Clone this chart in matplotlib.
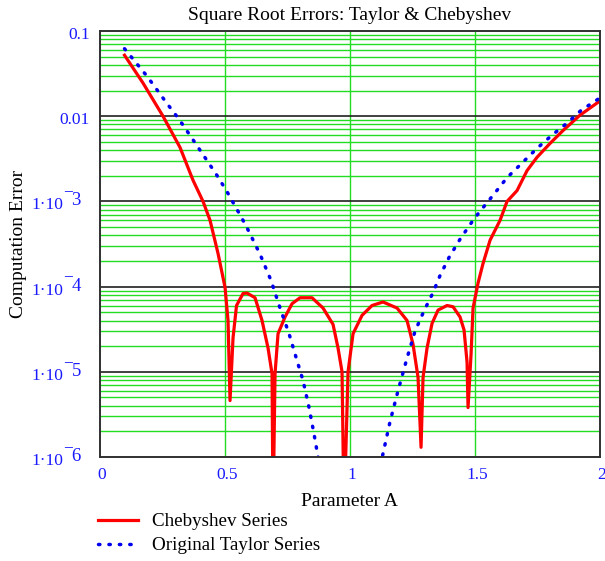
import matplotlib
matplotlib.use("Agg")
import matplotlib.pyplot as plt
import matplotlib.transforms as mtransforms
from matplotlib.ticker import FixedLocator, NullFormatter
from matplotlib.lines import Line2D

plt.rcParams['font.family'] = ['Liberation Serif', 'DejaVu Serif']

title = "Square Root Errors: Taylor & Chebyshev"
xlabel = "Parameter A"
ylabel = "Computation Error"
series_names = ["Chebyshev Series", "Original Taylor Series"]

cheb_x = [0.10, 0.174, 0.254, 0.322, 0.374, 0.414, 0.442, 0.474, 0.502, 0.514,
          0.522, 0.534, 0.548, 0.574, 0.59, 0.622, 0.65, 0.674, 0.69, 0.694,
          0.702, 0.714, 0.742, 0.77, 0.802, 0.85, 0.894, 0.934, 0.954, 0.97,
          0.978, 0.994, 1.014, 1.05, 1.09, 1.134, 1.19, 1.23, 1.254, 1.274,
          1.286, 1.294, 1.31, 1.33, 1.354, 1.39, 1.414, 1.442, 1.458, 1.47,
          1.474, 1.486, 1.494, 1.514, 1.534, 1.562, 1.602, 1.63, 1.67, 1.71,
          1.75, 1.802, 1.854, 1.922, 2.0]
cheb_y = [0.052, 0.0245, 0.01, 4.3e-3, 1.77e-3, 1e-3, 6e-4, 2.45e-4, 9.8e-5, 4e-5,
          4.6e-6, 2.5e-5, 6e-5, 8.3e-5, 8.4e-5, 7.4e-5, 4e-5, 1.9e-5, 9.5e-6, 2e-7,
          9.5e-6, 2.8e-5, 4.4e-5, 6.3e-5, 7.4e-5, 7.4e-5, 5.6e-5, 3.6e-5, 1.9e-5, 1e-5,
          2e-7, 1e-5, 2.8e-5, 4.6e-5, 6e-5, 6.6e-5, 5.6e-5, 4e-5, 2.1e-5, 8.6e-6,
          1.3e-6, 8.6e-6, 1.9e-5, 3.7e-5, 5.3e-5, 6e-5, 5.8e-5, 4.4e-5, 3.1e-5, 1.3e-5,
          3.8e-6, 1.6e-5, 5.6e-5, 1.1e-4, 1.87e-4, 3.5e-4, 6e-4, 1e-3, 1.34e-3, 2.3e-3,
          3.3e-3, 4.8e-3, 6.8e-3, 0.0103, 0.015]

taylor_x = [0.10, 0.19, 0.266, 0.318, 0.37, 0.418, 0.466, 0.51, 0.57, 0.59,
            0.642, 0.686, 0.722, 0.758, 0.79, 0.814, 0.838, 0.858, 0.874, 0.90,
            1.10, 1.134, 1.162, 1.194, 1.23, 1.262, 1.298, 1.334, 1.362, 1.398,
            1.442, 1.494, 1.518, 1.574, 1.63, 1.694, 1.75, 1.81, 1.87, 1.926, 2.0]
taylor_y = [0.062, 0.0295, 0.0146, 9.2e-3, 5.5e-3, 3.4e-3, 2.1e-3, 1.3e-3, 6.3e-4, 4.9e-4,
            2.4e-4, 1.18e-4, 5.6e-5, 2.8e-5, 1.35e-5, 7.9e-6, 3.8e-6, 1.86e-6, 1e-6, 3.6e-7,
            4e-7, 1.1e-6, 2.6e-6, 6e-6, 1.45e-5, 3e-5, 5.2e-5, 8.5e-5, 1.35e-4, 2.2e-4,
            3.6e-4, 6e-4, 7.4e-4, 1.18e-3, 1.9e-3, 2.9e-3, 4.2e-3, 6e-3, 8.3e-3, 0.0117, 0.0163]

x_ticks = [0, 0.5, 1, 1.5, 2]
x_tick_labels = ["0", "0.5", "1", "1.5", "2"]
y_ticks = [1e-6, 1e-5, 1e-4, 1e-3, 0.01, 0.1]
# (mantissa text, exponent text) ; exponent None -> plain label
y_tick_labels = [("1·10", "6"), ("1·10", "5"), ("1·10", "4"),
                 ("1·10", "3"), ("0.01", None), ("0.1", None)]

W, H, DPI = 6.05, 5.61, 100
fig = plt.figure(figsize=(W, H), dpi=DPI)
ax = fig.add_axes([0.1645, 0.1854, 0.8265, 0.7593])
ax.set_yscale('log')
ax.set_xlim(0, 2)
ax.set_ylim(1e-6, 0.1)

green = '#22dd22'
for dec in [1e-6, 1e-5, 1e-4, 1e-3, 1e-2]:
    for m in range(2, 10):
        ax.axhline(dec * m, color=green, lw=1.0, zorder=1)
for v in [1e-5, 1e-4, 1e-3, 1e-2]:
    ax.axhline(v, color='#202020', lw=1.2, zorder=1.5)
for v in [0.5, 1.0, 1.5]:
    ax.axvline(v, color=green, lw=1.0, zorder=1)

dot_style = (0, (0.4, 2.6))
ax.plot(cheb_x, cheb_y, color='#ff0000', lw=2.3, zorder=3,
        solid_joinstyle='round', label=series_names[0])
ax.plot(taylor_x, taylor_y, color='#0000ee', lw=2.5, linestyle=dot_style,
        dash_capstyle='round', zorder=3, label=series_names[1])

tick_blue = '#1a1aff'
ax.xaxis.set_major_locator(FixedLocator(x_ticks))
ax.set_xticklabels(x_tick_labels)
ax.yaxis.set_major_locator(FixedLocator(y_ticks))
ax.yaxis.set_minor_locator(FixedLocator([]))
ax.yaxis.set_major_formatter(NullFormatter())
ax.yaxis.set_minor_formatter(NullFormatter())
ax.tick_params(axis='both', which='both', length=0, labelsize=12.5, colors=tick_blue)
ax.tick_params(axis='x', pad=7)
shift = mtransforms.ScaledTranslation(2.5 / DPI, 0, fig.dpi_scale_trans)
for lab in ax.get_xticklabels():
    lab.set_transform(lab.get_transform() + shift)

# y tick labels in Mathcad style
ytrans = mtransforms.blended_transform_factory(fig.transFigure, ax.transData)
def px(x):
    return x / (W * DPI)
def off(dy):
    return ytrans + mtransforms.ScaledTranslation(0, dy / DPI, fig.dpi_scale_trans)
for val, (mant, expo) in zip(y_ticks, y_tick_labels):
    if expo is None:
        ax.text(px(90), val, mant, transform=off(-3.5), ha='right', va='center',
                fontsize=12.5, color=tick_blue, clip_on=False)
    else:
        ax.text(px(63.5), val, mant, transform=off(-4), ha='right', va='center',
                fontsize=12.5, color=tick_blue, clip_on=False)
        ax.text(px(67.5), val, "\u2212", transform=off(9), ha='center', va='center',
                fontsize=12.5, color=tick_blue, clip_on=False)
        ax.text(px(71.5), val, expo, transform=off(0.5), ha='left', va='center',
                fontsize=13.5, color=tick_blue, clip_on=False)

for s in ax.spines.values():
    s.set_color('#303030')
    s.set_linewidth(1.4)
    s.set_zorder(4)

ax.set_title(title, fontsize=14, color='black', pad=8)
ax.set_xlabel(xlabel, fontsize=14)
ax.xaxis.label.set_va('baseline')
ax.xaxis.set_label_coords(0.5, (457 - 506) / 426.0)
ax.set_ylabel(ylabel, fontsize=14)
ax.yaxis.set_label_coords((27 - 99.5) / 500.3, 0.5)

handles = [Line2D([], [], color='#ff0000', lw=2.3),
           Line2D([], [], color='#0000ee', lw=2.5, linestyle=dot_style,
                  dash_capstyle='round')]
fig.legend(handles, series_names, loc='upper left',
           bbox_to_anchor=(98 / 605, 0.0856), frameon=False, fontsize=13.7,
           handlelength=2.1, handletextpad=0.74, labelspacing=0.35,
           borderaxespad=0.0, borderpad=0.0)

fig.savefig("out.png", dpi=DPI)
